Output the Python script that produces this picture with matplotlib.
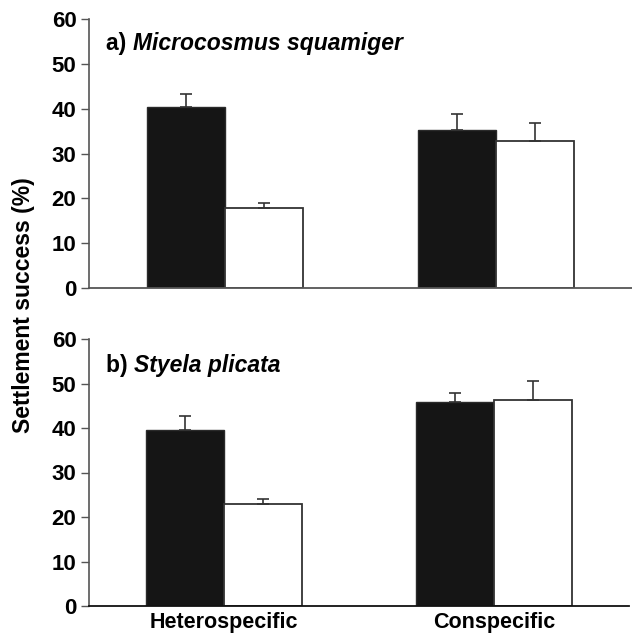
import matplotlib.pyplot as plt
import numpy as np

plt.rcParams['font.family'] = ['Liberation Sans', 'DejaVu Sans']
plt.rcParams['font.weight'] = 'bold'

groups = ['Heterospecific', 'Conspecific']
# panel a) Microcosmus squamiger
a_black = [40.4, 35.2]
a_black_se = [2.9, 3.6]
a_white = [17.8, 32.7]
a_white_se = [1.2, 4.2]
# panel b) Styela plicata
b_black = [39.6, 45.8]
b_black_se = [3.1, 2.1]
b_white = [23.0, 46.3]
b_white_se = [1.1, 4.2]

fig = plt.figure(figsize=(6.32, 6.36), dpi=100)
ax_a = fig.add_axes([89/632, 1-288/636, 543/632, 269/636])
ax_b = fig.add_axes([89/632, 1-606/636, 540/632, 267/636])

def panel(ax, black, black_se, white, white_se, bottom_col):
    w = 0.288
    x = np.arange(len(groups))
    ax.bar(x - w/2, black, w, color='#151515', edgecolor='#2a2a2a', lw=1, zorder=2)
    ax.bar(x + w/2, white, w, color='white', edgecolor='#333333', lw=1.3, zorder=2)
    ax.errorbar(x - w/2, black, yerr=[np.zeros(2), black_se], fmt='none',
                ecolor='#333333', elinewidth=1.2, capsize=4, capthick=1.2, zorder=3)
    ax.errorbar(x + w/2, white, yerr=[np.zeros(2), white_se], fmt='none',
                ecolor='#333333', elinewidth=1.2, capsize=4, capthick=1.2, zorder=3)
    ax.set_xlim(-0.501, 1.5)
    ax.set_ylim(0, 60)
    ax.set_yticks(range(0, 61, 10))
    ax.spines['top'].set_visible(False)
    ax.spines['right'].set_visible(False)
    ax.spines['left'].set_color('#555555')
    ax.spines['bottom'].set_color(bottom_col)
    ax.spines['left'].set_linewidth(1.2)
    ax.spines['bottom'].set_linewidth(1.3)
    ax.tick_params(axis='y', direction='out', length=6, width=1, color='#555555',
                   labelsize=16, pad=3)
    ax.tick_params(axis='x', length=0, labelsize=15.5, pad=4)
    for t in ax.get_yticklabels():
        t.set_fontweight('bold')

panel(ax_a, a_black, a_black_se, a_white, a_white_se, '#555555')
ax_a.set_xticks([])
panel(ax_b, b_black, b_black_se, b_white, b_white_se, '#111111')
ax_b.set_xticks(range(len(groups)))
ax_b.set_xticklabels(groups, fontweight='bold')

def title(ax, tag, name, x, y):
    t = fig.text(x/632, 1-y/636, tag + ' ', fontsize=16.5, fontweight='bold', va='baseline')
    ax.annotate(name, xy=(1, 0), xycoords=t, va='bottom', fontsize=16.5,
                fontweight='bold', fontstyle='italic')

title(ax_a, 'a)', 'Microcosmus squamiger', 106, 50)
title(ax_b, 'b)', 'Styela plicata', 106, 372)

fig.text(24/632, 1-305/636, 'Settlement success (%)', rotation=90, ha='center',
         va='center', fontsize=16.5, fontweight='bold')

fig.savefig('out.png', dpi=100)
